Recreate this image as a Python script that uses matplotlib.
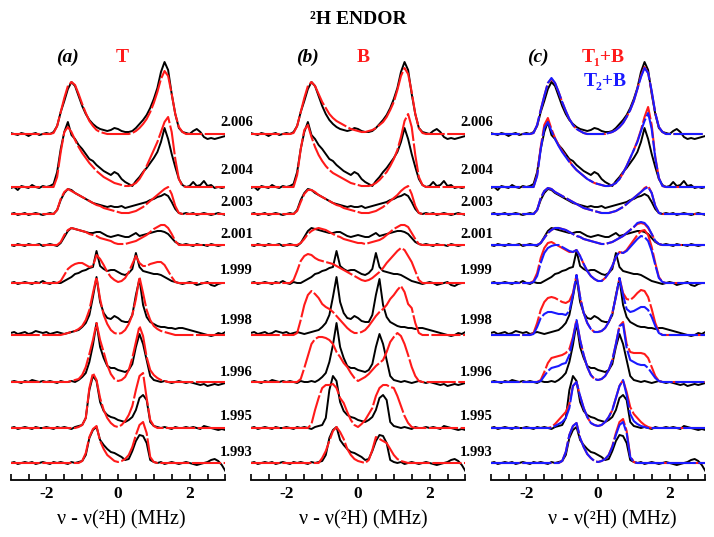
import numpy as np
import matplotlib
matplotlib.use("Agg")
import matplotlib.pyplot as plt

plt.rcParams['font.family'] = ['Liberation Serif', 'DejaVu Serif']

# ---------------- data ----------------
freq = np.linspace(-3.0, 3.0, 61)  # MHz, 0.1 MHz sampling

g_values = ["2.006", "2.004", "2.003", "2.001", "1.999", "1.998", "1.996", "1.995", "1.993"]
panel_tags = ["(a)", "(b)", "(c)"]
xticks_major = [-2, 0, 2]
xlabel_text = "\u03bd - \u03bd(\u00b2H) (MHz)"
title_text = "\u00b2H ENDOR"

Z = [0] * 10

# experimental spectra (black)
exp_2006 = [1, 0, -1, 1, 0, -2, 0, 1, -1, 0,
            1, 0, 2, 8, 22, 33, 45, 52, 48, 38,
            28, 20, 14, 10, 7, 5, 4, 3, 4, 6,
            5, 3, 2, 2, 3, 6, 10, 14, 19, 26,
            35, 46, 62, 72, 64, 40, 20, 6, 2, 1,
            0, 3, 5, 2, -3, -5, -4, -5, -4, -3, -2]
exp_2004 = [-1, 0, -3, 1, 0, -1, 2, 0, -1, 1,
            0, 1, 3, 15, 38, 55, 65, 52, 48, 42,
            38, 33, 28, 26, 22, 19, 16, 14, 12, 15,
            13, 8, 5, 3, 1, 6, 10, 15, 19, 24,
            29, 35, 45, 59, 48, 33, 20, 8, 2, 0,
            1, 5, 1, 2, 6, 1, 2, -1, 0, -1, 0]
exp_2003 = [0, 1, -1, 0, 1, -1, 0, 1, 0, -1,
            0, 1, 0, 4, 14, 21, 25, 24, 21, 19,
            17, 15, 13, 11, 10, 9, 8, 7, 8, 7,
            7, 8, 6, 7, 8, 9, 10, 11, 12, 14,
            15, 17, 18, 20, 18, 12, 5, 1, 0, 1,
            0, 1, -1, 0, 1, 0, -1, 0, 1, 0, -1]
exp_2001 = [0, -1, 1, 0, -1, 1, 0, 0, 1, -1,
            0, 1, 0, -1, 2, 8, 14, 17, 16, 15,
            14, 13, 12, 12, 13, 13, 11, 9, 8, 9,
            10, 9, 8, 8, 10, 12, 9, 10, 11, 12,
            13, 14, 14, 13, 11, 7, 3, 1, 0, 1,
            0, -1, 1, 0, 0, -1, 1, 0, -1, 0, 0]
exp_1999 = [0, 1, -1, 0, 1, 0, -1, 1, 0, 2,
            0, -1, 1, 0, 0, 2, 4, 6, 9, 10,
            12, 13, 15, 16, 32, 17, 14, 12, 13, 13,
            11, 9, 8, 10, 14, 30, 16, 12, 11, 10,
            9, 9, 8, 6, 4, 2, 1, 0, -1, 0,
            1, 0, -2, -1, 0, 1, -2, -3, -1, 0, 0]
exp_1998 = [2, 3, 1, 2, 3, 1, 2, 4, 3, 2,
            3, 1, 2, 3, 2, 1, 2, 3, 4, 5,
            8, 12, 20, 38, 58, 33, 22, 17, 16, 19,
            17, 14, 13, 13, 20, 40, 56, 30, 18, 13,
            11, 9, 8, 8, 7, 7, 6, 7, 7, 6,
            5, 4, 3, 2, 1, 0, -1, 0, 2, 1, 3]
exp_1996 = [0, 1, 0, -1, 1, 0, 2, 1, 0, 1,
            0, 1, 0, -1, 1, 0, 0, 1, 0, 2,
            5, 9, 20, 37, 59, 35, 24, 16, 14, 14,
            12, 11, 10, 12, 18, 35, 48, 38, 22, 6,
            2, 1, 0, 1, 0, -1, 0, 1, 0, -1,
            0, -1, -2, -3, -2, -4, -3, -2, -3, -2, -1]
exp_1995 = [0, 1, -1, 0, 1, 0, -1, 1, 0, 0,
            1, 0, -1, 1, 0, 1, 0, -1, 1, 2,
            3, 10, 38, 52, 47, 26, 17, 13, 11, 10,
            8, 7, 6, 8, 11, 18, 30, 33, 28, 6,
            2, 1, 0, 1, 0, -1, 1, 0, 0, 1,
            0, 1, 0, -1, 2, 1, 0, -1, -2, -1, -2]
exp_1993 = [0, 1, -1, 0, 1, 0, 1, -1, 0, 1,
            0, -1, 1, 0, 1, 0, -1, 1, 0, 1,
            2, 8, 25, 33, 36, 23, 18, 14, 11, 10,
            8, 6, 3, 4, 12, 22, 28, 27, 20, 3,
            1, 0, 1, -1, 0, 1, 0, -1, 0, 1,
            0, -1, -2, -1, 0, 1, 3, 4, 2, -2, -8]

# simulation T (panel a, red)
T_2006 = Z + [0, 0, 1, 8, 22, 36, 48, 52, 49, 40,
              30, 21, 13, 8, 4, 2, 1, 0, 0, 0,
              0, 0, 0, 0, 1, 3, 6, 10, 15, 22,
              31, 42, 55, 63, 58, 40, 20, 7, 2, 0] + [0] * 11
T_2004 = Z + [0, 0, 0, 10, 35, 55, 60, 55, 47, 40,
              34, 29, 24, 20, 16, 13, 10, 8, 6, 4,
              3, 2, 1, 1, 2, 4, 8, 14, 21, 29,
              37, 45, 55, 65, 70, 55, 28, 8, 1, 0] + [0] * 11
T_2003 = Z + [0, 0, 0, 4, 15, 22, 25, 23, 21, 19,
              17, 15, 13, 11, 9, 8, 6, 5, 4, 3,
              2, 1, 1, 1, 2, 3, 5, 7, 10, 13,
              16, 19, 22, 25, 27, 20, 8, 1, 0, 0] + [0] * 11
T_2001 = Z + [0, 0, 0, 0, 3, 10, 15, 17, 16, 15,
              14, 13, 11, 10, 9, 7, 6, 5, 4, 2,
              1, 1, 1, 2, 3, 4, 6, 8, 10, 13,
              16, 18, 20, 20, 17, 11, 4, 0, 0, 0] + [0] * 11
T_1999 = Z + [0, 0, 0, 0, 2, 8, 14, 17, 19, 20,
              20, 18, 16, 17, 28, 24, 18, 11, 6, 3,
              1, 2, 5, 11, 19, 27, 20, 17, 17, 19,
              20, 21, 21, 18, 12, 6, 1, 0, 0, 0] + [0] * 11
T_1998 = Z + [0, 0, 0, 0, 0, 1, 2, 3, 4, 6,
              9, 15, 25, 42, 58, 36, 20, 11, 5, 2,
              1, 2, 5, 11, 20, 36, 58, 42, 25, 15,
              9, 6, 4, 3, 2, 1, 0, 0, 0, 0] + [0] * 11
T_1996 = Z + [0, 0, 0, 0, 0, 0, 0, 1, 2, 3,
              7, 15, 28, 42, 59, 42, 30, 17, 8, 3,
              1, 2, 5, 12, 24, 40, 56, 46, 25, 12,
              7, 4, 2, 1, 0, 0, 0, 0, 0, 0] + [0] * 11
T_1995 = Z + [0, 0, 0, 0, 0, 0, 0, 0, 0, 1,
              3, 10, 40, 55, 48, 30, 18, 10, 5, 2,
              1, 3, 7, 13, 22, 38, 52, 55, 30, 8,
              2, 0, 0, 0, 0, 0, 0, 0, 0, 0] + [0] * 11
T_1993 = Z + [0, 0, 0, 0, 0, 0, 0, 0, 0, 0,
              2, 10, 26, 34, 37, 22, 14, 8, 5, 2,
              1, 2, 4, 8, 16, 28, 38, 41, 30, 6,
              1, 0, 0, 0, 0, 0, 0, 0, 0, 0] + [0] * 11

# simulation B (panel b, red)
B_2006 = Z + [0, 0, 1, 8, 22, 36, 48, 52, 48, 40,
              32, 26, 20, 16, 13, 11, 9, 7, 5, 4,
              3, 2, 2, 3, 4, 6, 9, 12, 17, 24,
              32, 44, 58, 66, 60, 42, 20, 6, 1, 0] + [0] * 11
B_2004 = Z + [0, 0, 0, 12, 38, 57, 62, 50, 40, 32,
              26, 21, 17, 14, 12, 10, 8, 6, 4, 3,
              2, 1, 1, 1, 2, 4, 7, 11, 15, 21,
              28, 37, 50, 66, 73, 60, 32, 10, 2, 0] + [0] * 11
B_2003 = Z + [0, 0, 0, 3, 12, 20, 24, 24, 22, 19,
              17, 15, 13, 11, 9, 8, 6, 5, 4, 3,
              2, 1, 1, 1, 2, 3, 5, 7, 10, 13,
              16, 19, 23, 26, 28, 20, 8, 1, 0, 0] + [0] * 11
B_2001 = Z + [0, 0, 0, 0, 2, 6, 11, 14, 16, 17,
              16, 15, 13, 11, 9, 8, 6, 5, 4, 3,
              2, 2, 1, 2, 3, 4, 5, 7, 10, 13,
              16, 18, 20, 20, 18, 12, 6, 1, 0, 0] + [0] * 11
B_1999 = Z + [0, 0, 3, 12, 22, 27, 29, 28, 25, 23,
              22, 21, 20, 19, 17, 15, 13, 11, 9, 7,
              5, 3, 2, 3, 5, 8, 11, 15, 20, 24,
              28, 32, 35, 33, 27, 21, 12, 3, 0, 0] + [0] * 11
B_1998 = Z + [0, 0, 0, 2, 15, 30, 40, 44, 41, 37,
              31, 28, 26, 23, 19, 15, 11, 7, 4, 2,
              2, 3, 5, 9, 14, 19, 23, 26, 30, 36,
              40, 45, 49, 43, 31, 27, 12, 2, 0, 0] + [0] * 11
B_1996 = Z + [0, 0, 0, 0, 3, 14, 26, 38, 43, 45,
              45, 44, 42, 38, 30, 25, 19, 15, 9, 4,
              1, 3, 5, 8, 12, 16, 19, 22, 30, 40,
              45, 49, 46, 38, 27, 15, 6, 1, 0, 0] + [0] * 11
B_1995 = Z + [0, 0, 0, 0, 0, 0, 0, 4, 18, 30,
              40, 43, 43, 44, 40, 30, 25, 16, 8, 3,
              1, 4, 8, 14, 20, 32, 40, 43, 43, 41,
              40, 32, 22, 12, 5, 1, 0, 0, 0, 0] + [0] * 11
B_1993 = Z + [0, 0, 0, 0, 0, 0, 0, 0, 0, 0,
              5, 12, 22, 32, 36, 31, 24, 14, 8, 4,
              2, 1, 0, 3, 13, 26, 24, 22, 20, 14,
              8, 4, 2, 1, 0, 0, 0, 0, 0, 0] + [0] * 11

# simulation T1+B (panel c, red)
C1_2006 = Z + [0, 0, 1, 9, 24, 38, 51, 55, 51, 42,
               32, 23, 15, 9, 5, 3, 1, 0, 0, 0,
               0, 0, 0, 1, 2, 4, 7, 11, 17, 24,
               33, 45, 58, 67, 61, 42, 21, 7, 2, 0] + [0] * 11
C1_2004 = Z + [0, 0, 0, 12, 40, 62, 69, 58, 49, 42,
               36, 31, 26, 21, 17, 14, 11, 8, 6, 4,
               3, 2, 1, 1, 2, 4, 8, 14, 21, 29,
               37, 46, 57, 70, 80, 62, 30, 9, 1, 0] + [0] * 11
C1_2003 = Z + [0, 0, 0, 4, 16, 23, 26, 25, 22, 20,
               18, 16, 14, 12, 10, 8, 6, 5, 4, 3,
               2, 1, 1, 1, 2, 3, 5, 7, 10, 13,
               16, 19, 22, 26, 28, 21, 8, 1, 0, 0] + [0] * 11
C1_2001 = Z + [0, 0, 0, 0, 2, 7, 12, 15, 17, 17,
               16, 15, 13, 11, 9, 8, 6, 5, 4, 3,
               2, 1, 1, 2, 3, 5, 7, 9, 12, 15,
               18, 21, 22, 21, 17, 11, 4, 1, 0, 0] + [0] * 11
C1_1999 = Z + [0, 0, 2, 10, 25, 35, 40, 41, 39, 37,
               35, 33, 31, 31, 33, 27, 19, 12, 7, 4,
               2, 2, 5, 10, 17, 26, 31, 30, 33, 38,
               43, 48, 52, 53, 48, 36, 20, 6, 1, 0] + [0] * 11
C1_1998 = Z + [0, 0, 2, 12, 25, 33, 37, 38, 37, 35,
               33, 32, 34, 42, 60, 38, 22, 12, 6, 3,
               3, 4, 7, 13, 22, 38, 57, 42, 36, 35,
               38, 42, 45, 44, 38, 26, 12, 3, 0, 0] + [0] * 11
C1_1996 = Z + [0, 0, 0, 0, 2, 10, 19, 24, 25, 26,
               27, 29, 33, 45, 62, 42, 27, 15, 7, 3,
               2, 3, 6, 12, 22, 38, 56, 60, 38, 30,
               29, 29, 29, 28, 24, 15, 6, 1, 0, 0] + [0] * 11
C1_1995 = Z + [0, 0, 0, 0, 0, 0, 0, 1, 4, 8,
               12, 16, 24, 42, 46, 32, 20, 11, 5, 3,
               2, 3, 6, 11, 18, 30, 42, 48, 36, 21,
               14, 10, 6, 3, 1, 0, 0, 0, 0, 0] + [0] * 11
C1_1993 = Z + [0, 0, 0, 0, 0, 0, 0, 0, 0, 0,
               2, 11, 28, 37, 40, 25, 16, 9, 5, 2,
               1, 2, 4, 8, 17, 30, 41, 44, 32, 7,
               1, 0, 0, 0, 0, 0, 0, 0, 0, 0] + [0] * 11

# simulation T2+B (panel c, blue)
C2_2006 = Z + [0, 0, 1, 9, 24, 38, 51, 56, 51, 42,
               32, 23, 15, 9, 5, 3, 1, 0, 0, 0,
               0, 0, 0, 1, 2, 4, 7, 11, 17, 24,
               33, 45, 57, 66, 61, 43, 21, 7, 2, 0] + [0] * 11
C2_2004 = Z + [0, 0, 0, 11, 38, 59, 65, 56, 48, 41,
               35, 30, 25, 21, 17, 14, 11, 8, 6, 4,
               3, 2, 1, 1, 2, 4, 8, 14, 21, 29,
               37, 45, 56, 66, 74, 58, 29, 9, 1, 0] + [0] * 11
C2_2003 = Z + [0, 0, 0, 4, 16, 23, 26, 25, 22, 20,
               18, 16, 14, 12, 10, 8, 6, 5, 4, 3,
               2, 1, 1, 1, 2, 3, 5, 7, 10, 13,
               16, 19, 22, 25, 27, 21, 8, 1, 0, 0] + [0] * 11
C2_2001 = Z + [0, 0, 0, 0, 2, 7, 12, 15, 17, 17,
               16, 15, 13, 11, 9, 8, 6, 5, 4, 3,
               2, 1, 1, 2, 3, 5, 7, 9, 12, 15,
               18, 22, 23, 22, 18, 11, 4, 1, 0, 0] + [0] * 11
C2_1999 = Z + [0, 0, 1, 7, 20, 30, 35, 37, 38, 38,
               36, 34, 32, 31, 33, 27, 19, 12, 7, 4,
               2, 2, 5, 10, 17, 26, 31, 30, 32, 36,
               40, 44, 47, 46, 42, 32, 18, 5, 1, 0] + [0] * 11
C2_1998 = Z + [0, 0, 1, 8, 17, 21, 23, 23, 22, 21,
               21, 20, 24, 40, 60, 38, 22, 12, 6, 3,
               3, 4, 7, 13, 22, 38, 57, 40, 26, 23,
               24, 26, 28, 28, 25, 18, 9, 2, 0, 0] + [0] * 11
C2_1996 = Z + [0, 0, 0, 0, 1, 6, 11, 14, 15, 16,
               18, 19, 27, 43, 62, 42, 27, 15, 7, 3,
               2, 3, 6, 12, 22, 38, 56, 58, 34, 22,
               20, 18, 17, 17, 14, 9, 4, 1, 0, 0] + [0] * 11
C2_1995 = Z + [0, 0, 0, 0, 0, 0, 0, 0, 2, 4,
               6, 10, 20, 42, 46, 32, 20, 11, 5, 3,
               2, 3, 6, 11, 18, 30, 42, 48, 33, 14,
               7, 4, 2, 1, 0, 0, 0, 0, 0, 0] + [0] * 11
C2_1993 = Z + [0, 0, 0, 0, 0, 0, 0, 0, 0, 0,
               2, 11, 28, 37, 40, 25, 16, 9, 5, 2,
               1, 2, 4, 8, 16, 28, 38, 41, 30, 6,
               1, 0, 0, 0, 0, 0, 0, 0, 0, 0] + [0] * 11

exp_all = [exp_2006, exp_2004, exp_2003, exp_2001, exp_1999, exp_1998, exp_1996, exp_1995, exp_1993]
T_all = [T_2006, T_2004, T_2003, T_2001, T_1999, T_1998, T_1996, T_1995, T_1993]
B_all = [B_2006, B_2004, B_2003, B_2001, B_1999, B_1998, B_1996, B_1995, B_1993]
C1_all = [C1_2006, C1_2004, C1_2003, C1_2001, C1_1999, C1_1998, C1_1996, C1_1995, C1_1993]
C2_all = [C2_2006, C2_2004, C2_2003, C2_2001, C2_1999, C2_1998, C2_1996, C2_1995, C2_1993]

# ---------------- layout ----------------
W, H = 714, 537
baseline_px = [134, 187, 214, 245, 283, 335, 382, 428, 463]
label_y_px = [123, 170, 203, 234, 271, 320, 372, 417, 452]
panel_left_px = [10.6, 250.6, 490.6]
panel_w_px = 214.8
axis_y_px = 480
top_px = 40
RED = '#ff1a1a'
BLUE = '#1a1aff'
dash = (0, (14, 1.2))


def fx(x):
    return x / W


def fy(y):
    return 1 - y / H


fig = plt.figure(figsize=(W / 100, H / 100), dpi=100)

sim_sets = [[(T_all, RED)], [(B_all, RED)], [(C1_all, RED), (C2_all, BLUE)]]

for p in range(3):
    ax = fig.add_axes([fx(panel_left_px[p]), fy(axis_y_px), panel_w_px / W, (axis_y_px - top_px) / H])
    ax.set_xlim(-3, 3)
    ax.set_ylim(0, axis_y_px - top_px)
    for r in range(len(g_values)):
        off = axis_y_px - baseline_px[r]
        ax.plot(freq, off + np.asarray(exp_all[r]), color='black', lw=1.4, zorder=2)
        for k, (arrs, col) in enumerate(sim_sets[p]):
            ax.plot(freq, off + np.asarray(arrs[r]), color=col, lw=1.5, ls=dash, zorder=3 + k)
    for s in ['left', 'right', 'top']:
        ax.spines[s].set_visible(False)
    ax.spines['bottom'].set_linewidth(1.3)
    ax.set_yticks([])
    ax.set_xticks(xticks_major)
    ax.set_xticklabels([f"{t:d}" for t in xticks_major], fontsize=12.5, fontweight='bold')
    ax.set_xticks(np.arange(-3, 3.01, 0.5), minor=True)
    ax.tick_params(axis='x', which='both', direction='in', length=4, width=1.2, pad=4)
    ax.patch.set_alpha(0)

# panel x-labels
for cx in [121, 363, 612]:
    fig.text(fx(cx), fy(520), xlabel_text, ha='center', va='center', fontsize=14.5)

# g-value labels
for lx in [220, 460]:
    for r, g in enumerate(g_values):
        fig.text(fx(lx), fy(label_y_px[r]), g, ha='left', va='center', fontsize=10.5, fontweight='bold')

# title
fig.text(fx(358), fy(20), title_text, ha='center', va='center', fontsize=14, fontweight='bold')

# panel tags
for tx, tag in zip([67, 307, 538], panel_tags):
    fig.text(fx(tx), fy(57), tag, ha='center', va='center', fontsize=14, fontweight='bold', style='italic')
fig.text(fx(122), fy(57), "T", ha='center', va='center', fontsize=14, fontweight='bold', color=RED)
fig.text(fx(363), fy(57), "B", ha='center', va='center', fontsize=14, fontweight='bold', color=RED)
fig.text(fx(603), fy(57), "T\u2081+B", ha='center', va='center', fontsize=14, fontweight='bold', color=RED)
fig.text(fx(605), fy(82), "T\u2082+B", ha='center', va='center', fontsize=14, fontweight='bold', color=BLUE)

fig.savefig("out.png", dpi=100)
